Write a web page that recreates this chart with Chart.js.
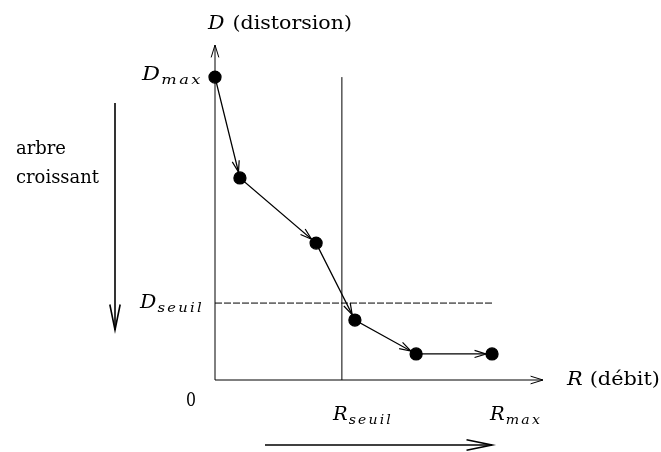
<!DOCTYPE html>
<html>
<head>
<meta charset="utf-8">
<script src="https://cdn.jsdelivr.net/npm/chart.js@4.4.1/dist/chart.umd.min.js"></script>
<style>
  html, body { margin: 0; padding: 0; background: #fff; }
  #wrap { width: 661px; height: 452px; position: relative; }
</style>
</head>
<body>
<div id="wrap"><canvas id="c" width="661" height="452"></canvas></div>
<script>
// ---- data ----
const rateValues = [0, 0.9, 3.65, 5.05, 7.26, 10];          // R (débit)
const distortionValues = [10, 6.67, 4.52, 1.98, 0.86, 0.86]; // D (distorsion)
const rSeuil = 4.58;
const dSeuil = 2.54;
const rMax = 10;
const dMax = 10;
const xAxisEnd = 11.84;
const yAxisEnd = 11.06;

const FONT = '"DejaVu Serif", "Liberation Serif", serif';

const curve = rateValues.map((r, i) => ({ x: r, y: distortionValues[i] }));
const vLine = [{ x: rSeuil, y: 0 }, { x: rSeuil, y: dMax }];
const hLine = [{ x: 0, y: dSeuil }, { x: rMax, y: dSeuil }];

function arrowHead(ctx, tx, ty, fx, fy, len, half) {
  const a = Math.atan2(ty - fy, tx - fx);
  ctx.beginPath();
  ctx.moveTo(tx - len * Math.cos(a - half), ty - len * Math.sin(a - half));
  ctx.lineTo(tx, ty);
  ctx.lineTo(tx - len * Math.cos(a + half), ty - len * Math.sin(a + half));
  ctx.stroke();
}
function arrow(ctx, x1, y1, x2, y2, len, half, lw) {
  ctx.lineWidth = lw;
  ctx.beginPath(); ctx.moveTo(x1, y1); ctx.lineTo(x2, y2); ctx.stroke();
  arrowHead(ctx, x2, y2, x1, y1, len, half);
}
// Text made of runs [{t, font, dy, sp}] stretched to span [x0, x1]
function runs(ctx, parts, x0, x1, y) {
  let natural = 0;
  for (const p of parts) {
    ctx.font = p.font;
    for (const ch of p.t) natural += ctx.measureText(ch).width + (p.sp || 0);
    natural += (p.gap || 0);
  }
  const k = (x1 - x0) / natural;
  ctx.save();
  ctx.translate(x0, y);
  ctx.scale(k, 1);
  ctx.textAlign = 'left';
  ctx.textBaseline = 'alphabetic';
  let cx = 0;
  for (const p of parts) {
    ctx.font = p.font;
    for (const ch of p.t) {
      ctx.fillText(ch, cx, p.dy || 0);
      cx += ctx.measureText(ch).width + (p.sp || 0);
    }
    cx += (p.gap || 0);
  }
  ctx.restore();
}
const IT = 'italic 18px ' + FONT;
const RM = '18px ' + FONT;
const SUB = 'italic 13px ' + FONT;

const decor = {
  id: 'decor',
  afterDatasetsDraw(chart) {
    const ctx = chart.ctx;
    const xs = chart.scales.x, ys = chart.scales.y;
    const X = v => xs.getPixelForValue(v), Y = v => ys.getPixelForValue(v);
    ctx.save();
    ctx.strokeStyle = '#000';
    ctx.fillStyle = '#000';
    // axes
    arrow(ctx, X(0), Y(0), X(xAxisEnd), Y(0), 13, 0.3, 1);
    arrow(ctx, X(0), Y(0), X(0), Y(yAxisEnd), 13, 0.3, 1);
    // arrows on curve segments
    const r = 6;
    for (let i = 1; i < curve.length; i++) {
      const fx = X(curve[i - 1].x), fy = Y(curve[i - 1].y);
      const tx = X(curve[i].x), ty = Y(curve[i].y);
      const d = Math.hypot(tx - fx, ty - fy);
      const ex = tx - (tx - fx) / d * r, ey = ty - (ty - fy) / d * r;
      ctx.lineWidth = 1.2;
      arrowHead(ctx, ex, ey, fx, fy, 12, 0.3);
    }
    // side arrows
    arrow(ctx, 115, 103, 115, 330, 26, 0.2, 1.6);
    arrow(ctx, 265, 445, 492, 445, 26, 0.2, 1.6);
    // texts
    runs(ctx, [{ t: 'D', font: IT, gap: 7 }, { t: '(distorsion)', font: RM }], 208, 352, 29);
    runs(ctx, [{ t: 'R', font: IT, gap: 6 }, { t: '(débit)', font: RM }], 567, 660, 385);
    runs(ctx, [{ t: 'arbre', font: RM }], 16, 66, 154);
    runs(ctx, [{ t: 'croissant', font: RM }], 16, 99, 183);
    runs(ctx, [{ t: '0', font: RM }], 186, 196, 406);
    runs(ctx, [{ t: 'D', font: IT, gap: 1 }, { t: 'max', font: SUB, dy: 4, sp: 2 }], 142, 203, Y(dMax) + 3);
    runs(ctx, [{ t: 'D', font: IT, gap: 1 }, { t: 'seuil', font: SUB, dy: 4, sp: 2 }], 140, 204, Y(dSeuil) + 5);
    runs(ctx, [{ t: 'R', font: IT, gap: 1 }, { t: 'seuil', font: SUB, dy: 4, sp: 2 }], 333, 393, Y(0) + 40);
    runs(ctx, [{ t: 'R', font: IT, gap: 1 }, { t: 'max', font: SUB, dy: 4, sp: 2 }], 490, 542, Y(0) + 40);
    ctx.restore();
  }
};

new Chart(document.getElementById('c'), {
  type: 'scatter',
  data: {
    datasets: [
      { label: 'curve', data: curve, showLine: true, borderColor: '#000', borderWidth: 1.3,
        pointRadius: 6, pointBackgroundColor: '#000', pointBorderColor: '#000', order: 0, clip: false },
      { label: 'R_seuil', data: vLine, showLine: true, borderColor: '#000', borderWidth: 1,
        pointRadius: 0, order: 1, clip: false },
      { label: 'D_seuil', data: hLine, showLine: true, borderColor: '#000', borderWidth: 1,
        borderDash: [7, 2], pointRadius: 0, order: 1, clip: false }
    ]
  },
  options: {
    responsive: false,
    animation: false,
    events: [],
    layout: { padding: { left: 215, right: 118, top: 45, bottom: 72 } },
    plugins: { legend: { display: false }, tooltip: { enabled: false } },
    scales: {
      x: { type: 'linear', display: false, min: 0, max: xAxisEnd },
      y: { type: 'linear', display: false, min: 0, max: yAxisEnd }
    }
  },
  plugins: [decor]
});
</script>
</body>
</html>
